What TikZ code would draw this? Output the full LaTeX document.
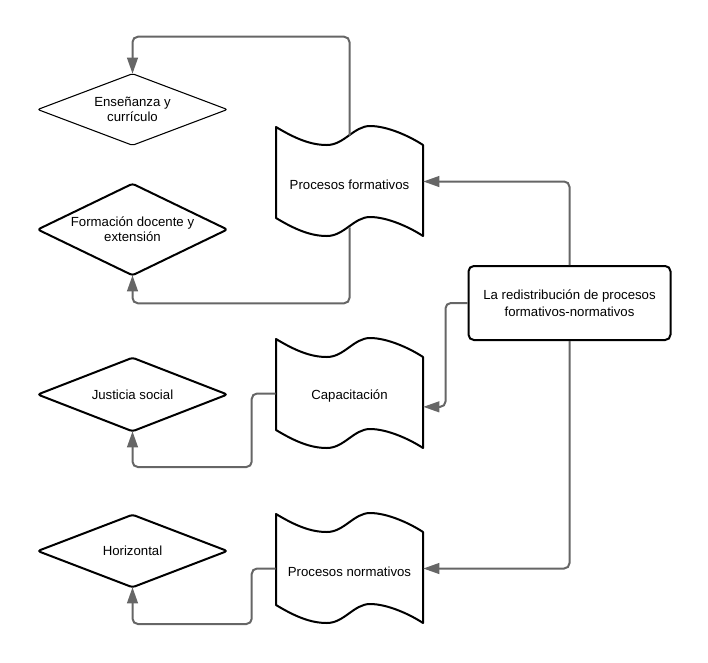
\documentclass[tikz,border=0pt]{standalone}
\usepackage{fontspec}
\setmainfont{Liberation Sans}
\usetikzlibrary{arrows.meta}
\definecolor{conn}{HTML}{666666}
\newcommand{\lowertext}[2]{\raisebox{-#1}[\height][\depth]{#2}}
\tikzset{
  lbl/.style={font=\fontsize{9.9pt}{11.25pt}\selectfont, align=center, inner sep=0pt},
  shapeline/.style={draw=black, line width=1.5pt, line join=round},
  thinline/.style={draw=black, line width=0.8pt, line join=round},
  link/.style={draw=conn, line width=1.5pt, rounded corners=4pt, -{Triangle[length=12pt,width=8pt]}},
  wave/.pic={
    \draw[shapeline] (0,0) .. controls (20,12) and (35,18) .. (51,18)
      .. controls (68,18) and (78,-1) .. (94,-1)
      .. controls (112,-1) and (135,10) .. (147,18)
      -- (147,109)
      .. controls (135,101) and (112,90) .. (94,90)
      .. controls (78,90) and (68,109) .. (51,109)
      .. controls (35,109) and (20,103) .. (0,91) -- cycle;
  }
}
\begin{document}
\begin{tikzpicture}[x=0.75pt,y=-0.75pt]
\useasboundingbox (0,0) rectangle (708,662);

% wave shapes
\pic at (276,127) {wave};
\pic at (276,339) {wave};
\pic at (276,514) {wave};
\node[lbl, minimum width=110.25pt, minimum height=68.25pt] (w1) at (349.5,181.5) {\lowertext{2.4pt}{Procesos formativos}};
\node[lbl, minimum width=110.25pt, minimum height=68.25pt] (w2) at (349.5,393.5) {\lowertext{1.9pt}{Capacitación}};
\node[lbl, minimum width=110.25pt, minimum height=68.25pt] (w3) at (349.5,568.5) {\lowertext{2.6pt}{Procesos normativos}};

% central rectangle
\node[lbl, font=\fontsize{9.9pt}{12.75pt}\selectfont, draw=black, line width=1.5pt, rounded corners=4pt,
      minimum width=151.5pt, minimum height=55.5pt] (r) at (569.5,303)
      {La redistribución de procesos\\formativos-normativos};

% diamonds
\node[lbl, minimum width=141.75pt, minimum height=53.25pt] (d1) at (132.5,109.5) {Enseñanza y\\currículo};
\node[lbl, minimum width=141.75pt, minimum height=68.25pt] (d2) at (132.5,229.5) {Formación docente y\\extensión};
\node[lbl, minimum width=141.75pt, minimum height=54.75pt] (d3) at (132.5,394.5) {Justicia social};
\node[lbl, minimum width=141.75pt, minimum height=54pt] (d4) at (132.5,551) {Horizontal};
\draw[thinline, rounded corners=1.5pt] (d1.north) -- (d1.east) -- (d1.south) -- (d1.west) -- cycle;
\foreach \d in {d2,d3,d4}{
  \draw[shapeline, rounded corners=2pt] (\d.north) -- (\d.east) -- (\d.south) -- (\d.west) -- cycle;
}

% connectors
\draw[link] (r.north) |- (w1.east);
\draw[link] (r.west) -- ++(-22,0) |- ([yshift=-10pt]w2.east);
\draw[link] (r.south) |- (w3.east);
\draw[link] (w1.north) -- ++(0,-99) -| (d1.north);
\draw[link] (w1.south) -- ++(0,76) -| (d2.south);
\draw[link] (w2.west) -- ++(-24,0) -- ++(0,73.5) -| (d3.south);
\draw[link] (w3.west) -- ++(-24,0) -- ++(0,55.5) -| (d4.south);
\end{tikzpicture}
\end{document}
